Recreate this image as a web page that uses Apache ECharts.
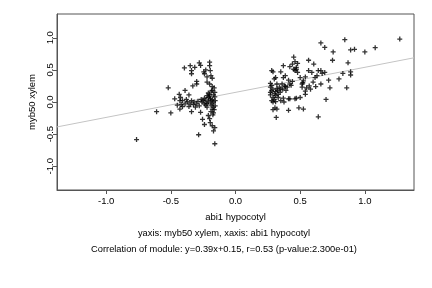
<!DOCTYPE html>
<html>
<head>
<meta charset="utf-8">
<script src="https://cdn.jsdelivr.net/npm/echarts@6/dist/echarts.min.js"></script>
<style>
  html, body { margin: 0; padding: 0; background: #fff; }
  #chart { width: 432px; height: 288px; }
</style>
</head>
<body>
<div id="chart"></div>
<script>
// abi1 hypocotyl (x) vs myb50 xylem (y)
const xVals = [
  -0.765, -0.61, -0.50, -0.52, -0.47, -0.435, -0.425, -0.39, -0.395, -0.35,
  -0.315, -0.34, -0.34, -0.28, -0.27, -0.245, -0.24, -0.20, -0.20, -0.23,
  -0.195, -0.19, -0.22, -0.18, -0.30, -0.30, -0.33, -0.22, -0.20, -0.18,
  -0.165, -0.18, -0.20, -0.22, -0.17, -0.36, -0.38, -0.41, -0.39, -0.42,
  -0.43, -0.41, -0.37, -0.35, -0.34, -0.325, -0.34, -0.30, -0.29, -0.265,
  -0.25, -0.24, -0.27, -0.255, -0.24, -0.285, -0.22, -0.21, -0.20, -0.195,
  -0.18, -0.17, -0.16, -0.16, -0.19, -0.18, -0.17, -0.21, -0.195, -0.157,
  -0.157, -0.18, -0.23, -0.31, -0.36, -0.43, -0.21, -0.19, -0.17, -0.16,
  -0.22, -0.20, -0.18, -0.165, -0.24, -0.26, -0.23, -0.19, -0.175, -0.16,
  -0.21, -0.185, -0.17, -0.28, -0.32, -0.45,
  1.27, 1.08, 1.00, 0.92, 0.89, 0.845, 0.755, 0.69, 0.66, 0.75,
  0.87, 0.89, 0.89, 0.83, 0.80, 0.72, 0.73, 0.86, 0.70, 0.64,
  0.66, 0.67, 0.69, 0.64, 0.605, 0.565, 0.565, 0.59, 0.615, 0.60,
  0.57, 0.55, 0.54, 0.54, 0.62, 0.63, 0.515, 0.50, 0.48, 0.45,
  0.46, 0.44, 0.48, 0.47, 0.46, 0.45, 0.47, 0.42, 0.37, 0.35,
  0.385, 0.37, 0.41, 0.44, 0.42, 0.40, 0.385, 0.365, 0.39, 0.41,
  0.46, 0.47, 0.42, 0.37, 0.35, 0.375, 0.41, 0.49, 0.525, 0.315,
  0.29, 0.305, 0.32, 0.28, 0.29, 0.30, 0.31, 0.32, 0.27, 0.27,
  0.29, 0.28, 0.27, 0.27, 0.29, 0.30, 0.28, 0.31, 0.325, 0.34,
  0.33, 0.31, 0.345, 0.36, 0.50, 0.515, 0.525, 0.54, 0.66, 0.28,
  0.30, 0.32, 0.29, 0.31, 0.33, 0.35, 0.38, 0.43, 0.52, 0.58
];
const yVals = [
  -0.585, -0.15, -0.17, 0.22, 0.05, 0.12, 0.07, 0.18, 0.53, 0.565,
  0.54, 0.49, 0.44, 0.61, 0.57, 0.47, 0.44, 0.62, 0.565, 0.50,
  0.49, 0.41, 0.39, 0.37, 0.32, 0.28, 0.25, 0.31, 0.28, 0.24,
  0.22, 0.18, 0.12, 0.10, 0.11, 0.11, 0.04, 0.02, -0.03, -0.04,
  -0.11, -0.07, 0.00, -0.03, 0.02, -0.04, -0.15, -0.03, 0.01, 0.04,
  0.02, -0.03, -0.16, -0.27, -0.35, -0.51, -0.08, -0.21, -0.26, -0.32,
  -0.37, -0.45, -0.40, -0.65, 0.02, -0.03, -0.08, 0.00, 0.05, 0.02,
  -0.06, -0.11, 0.03, -0.08, -0.07, 0.02, 0.07, -0.05, 0.00, 0.08,
  -0.02, 0.09, 0.04, -0.12, 0.06, 0.00, -0.05, -0.15, -0.20, 0.15,
  0.14, 0.17, -0.17, -0.06, 0.00, -0.05,
  0.98, 0.845, 0.78, 0.82, 0.81, 0.97, 0.78, 0.85, 0.92, 0.65,
  0.61, 0.47, 0.42, 0.445, 0.36, 0.34, 0.22, 0.22, 0.04, -0.23,
  0.28, 0.445, 0.46, 0.49, 0.59, 0.65, 0.49, 0.46, 0.38, 0.31,
  0.25, 0.22, 0.17, 0.12, 0.24, 0.41, 0.28, 0.38, 0.46, 0.70,
  0.63, 0.59, 0.60, 0.54, 0.49, 0.51, 0.51, 0.55, 0.565, 0.47,
  0.41, 0.38, 0.34, 0.32, 0.28, 0.23, 0.24, 0.20, 0.18, 0.05,
  0.05, 0.06, 0.05, 0.06, 0.02, 0.00, -0.13, -0.09, -0.11, -0.24,
  -0.12, -0.09, -0.11, 0.49, 0.47, 0.36, 0.38, 0.28, 0.29, 0.23,
  0.20, 0.175, 0.15, 0.11, 0.07, 0.04, 0.02, 0.10, 0.175, 0.23,
  0.07, 0.005, 0.15, 0.28, 0.07, 0.23, 0.33, 0.39, 0.49, 0.26,
  0.13, 0.21, 0.00, 0.16, 0.12, 0.20, 0.25, 0.26, 0.30, 0.20
];
const xTicks = [-1.0, -0.5, 0.0, 0.5, 1.0];
const yTicks = [-1.0, -0.5, 0.0, 0.5, 1.0];
const fitSlope = 0.39;
const fitIntercept = 0.15;
const xMin = -1.38, xMax = 1.38;
const yMin = -1.37, yMax = 1.37;

const points = xVals.map((x, i) => [x, yVals[i]]);
const fitLine = [[xMin, fitSlope * xMin + fitIntercept], [xMax, fitSlope * xMax + fitIntercept]];

const plus = 'path://M2,0h1.4v2h2v1.4h-2v2h-1.4v-2h-2v-1.4h2z';
const font = 'Liberation Sans, Arial, sans-serif';

const chart = echarts.init(document.getElementById('chart'));
chart.setOption({
  animation: false,
  grid: {
    left: 57, right: 18, top: 14, bottom: 98,
    show: true, borderColor: '#555', borderWidth: 1, backgroundColor: 'transparent'
  },
  title: [
    {
      text: 'yaxis: myb50 xylem, xaxis: abi1 hypocotyl',
      left: 219, top: 224, textAlign: 'center',
      textStyle: { fontFamily: font, fontSize: 9.3, fontWeight: 'normal', color: '#000' }
    },
    {
      text: 'Correlation of module: y=0.39x+0.15, r=0.53 (p-value:2.300e-01)',
      left: 219, top: 240, textAlign: 'center',
      textStyle: { fontFamily: font, fontSize: 9.3, fontWeight: 'normal', color: '#000' }
    }
  ],
  xAxis: {
    type: 'value', min: xMin, max: xMax,
    name: 'abi1 hypocotyl', nameLocation: 'middle', nameGap: 22,
    nameTextStyle: { fontFamily: font, fontSize: 9.5, color: '#000' },
    axisLine: { show: true, onZero: false, lineStyle: { color: '#555', width: 1 } },
    axisTick: { show: true, inside: false, length: 4, customValues: xTicks, lineStyle: { color: '#555' } },
    axisLabel: {
      customValues: xTicks, margin: 6,
      fontFamily: font, fontSize: 9.5, color: '#000',
      formatter: v => v.toFixed(1)
    },
    splitLine: { show: false }
  },
  yAxis: {
    type: 'value', min: yMin, max: yMax,
    name: 'myb50 xylem', nameLocation: 'middle', nameGap: 17, nameRotate: 90,
    nameTextStyle: { fontFamily: font, fontSize: 9.5, color: '#000' },
    axisLine: { show: true, onZero: false, lineStyle: { color: '#555', width: 1 } },
    axisTick: { show: true, inside: false, length: 4, customValues: yTicks, lineStyle: { color: '#555' } },
    axisLabel: {
      customValues: yTicks, margin: 2, rotate: 90,
      fontFamily: font, fontSize: 9.5, color: '#000',
      formatter: v => v.toFixed(1)
    },
    splitLine: { show: false }
  },
  series: [
    {
      type: 'line',
      data: fitLine,
      symbol: 'none',
      lineStyle: { color: '#c4c4c4', width: 1 },
      z: 1
    },
    {
      type: 'scatter',
      data: points,
      symbol: plus,
      symbolSize: 5,
      itemStyle: { color: '#000' },
      z: 2
    }
  ]
});
</script>
</body>
</html>
